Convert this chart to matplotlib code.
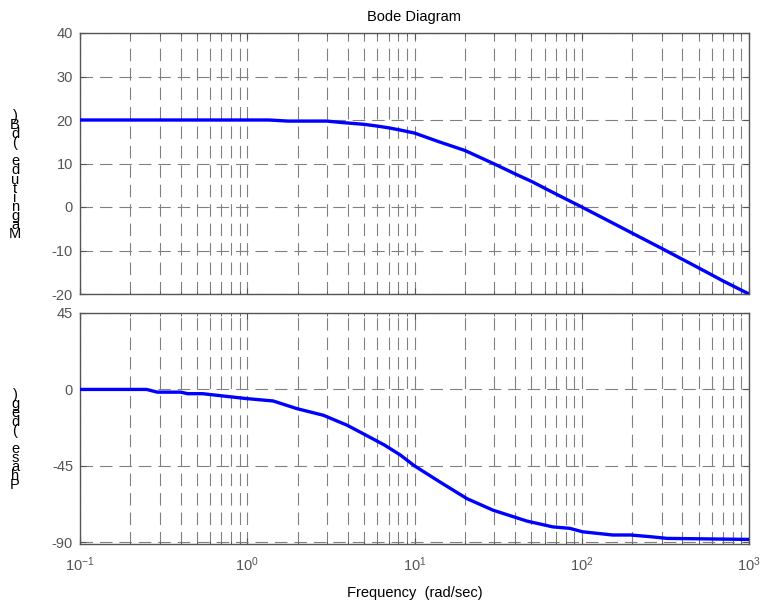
import numpy as np
import matplotlib
matplotlib.use("Agg")
import matplotlib.pyplot as plt
from matplotlib.ticker import LogLocator, NullFormatter

plt.rcParams['font.family'] = ['Liberation Sans', 'DejaVu Sans']
plt.rcParams['mathtext.fontset'] = 'custom'
plt.rcParams['mathtext.rm'] = 'Liberation Sans'
plt.rcParams['lines.scale_dashes'] = False
plt.rcParams['axes.unicode_minus'] = False

# ---- data ----
w_mag = [0.1, 0.5, 1.0, 1.35, 1.75, 3.0, 3.6, 5.0, 6.0, 7.0, 8.2, 10, 14, 20,
         30, 40, 50, 70, 100, 150, 200, 300, 500, 700, 1000]
mag_db = [20, 20, 20, 20, 19.75, 19.75, 19.45, 19.0, 18.6, 18.2, 17.7, 17.0, 15.0, 13.0,
          9.9, 7.6, 5.9, 3.0, 0.0, -3.5, -6.0, -9.5, -14.0, -17.0, -20.0]

w_ph = [0.1, 0.25, 0.29, 0.4, 0.44, 0.54, 0.97, 1.43, 1.98, 2.85, 3.94, 4.9, 6.6,
        8.2, 10, 14.2, 20.6, 29.5, 47, 67, 85, 101, 153, 196, 257, 324, 1000]
phase_deg = [0, 0, -1.6, -1.6, -2.5, -2.5, -5.3, -6.8, -11.3, -15.2, -21, -25.9, -32.7,
             -38.5, -45, -54.5, -64.3, -71.1, -77.5, -80.9, -81.8, -83.8, -85.7, -85.7,
             -86.7, -87.7, -88.3]

mag_ticks = [-20, -10, 0, 10, 20, 30, 40]
phase_ticks = [-90, -45, 0, 45]

W, H = 765, 610
fig = plt.figure(figsize=(W / 100, H / 100), dpi=100)

def box(l, t, r, b):
    return [l / W, 1 - b / H, (r - l) / W, (b - t) / H]

ax1 = fig.add_axes(box(80, 33, 749, 294))
ax2 = fig.add_axes(box(80, 313, 749, 544))

ax1.plot(w_mag, mag_db, color='#0000ff', lw=2.4, zorder=3)
ax2.plot(w_ph, phase_deg, color='#0000ff', lw=2.4, zorder=3)

ax1.set_ylim(-20, 40)
ax1.set_yticks(mag_ticks)
ax2.set_ylim(-91, 45)
ax2.set_yticks(phase_ticks)

grid_kw = dict(color='#808080', lw=0.8, linestyle=(0, (9, 5)))
for ax in (ax1, ax2):
    ax.set_xscale('log')
    ax.set_xlim(0.1, 1000)
    ax.xaxis.set_major_locator(LogLocator(base=10, numticks=10))
    ax.xaxis.set_minor_locator(LogLocator(base=10, subs=np.arange(2, 10), numticks=10))
    ax.xaxis.set_minor_formatter(NullFormatter())
    ax.grid(True, which='major', axis='both', **grid_kw)
    ax.grid(True, which='minor', axis='x', **grid_kw)
    ax.tick_params(which='both', direction='in', top=True, right=True,
                   colors='#555555', labelcolor='#555555', labelsize=10.5)
    ax.tick_params(which='major', length=4)
    ax.tick_params(which='minor', length=2)
    ax.tick_params(axis='y', pad=5)
    ax.tick_params(axis='x', pad=8)
    for s in ax.spines.values():
        s.set_color('#555555')
        s.set_linewidth(1.0)

ax1.tick_params(labelbottom=False)

fig.text(0.5 * (80 + 749) / W, 1 - 17 / H, 'Bode Diagram', ha='center', va='center', fontsize=10.5)
fig.text(0.5 * (80 + 749) / W, 1 - 593 / H, 'Frequency  (rad/sec)', ha='center', va='center', fontsize=10.5)

# y labels: upright glyphs stacked bottom-to-top, as in the reference
def stacked(label, x, y_mid):
    fig.text(x / W, 1 - y_mid / H, '\n'.join(reversed(label)), ha='center', va='center',
             ma='center', fontsize=10.5, linespacing=0.55)

stacked('Magnitude (dB)', 15, 175)
stacked('Phase (deg)', 15, 440)

fig.savefig('out.png', dpi=100)
